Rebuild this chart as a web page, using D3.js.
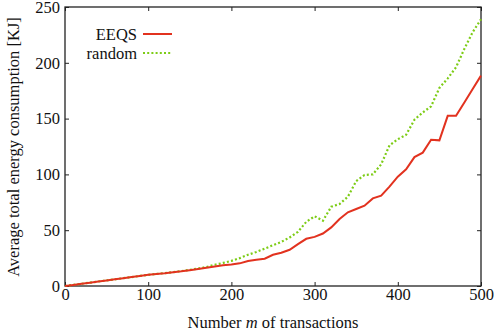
<!DOCTYPE html>
<html><head><meta charset="utf-8">
<script src="https://cdn.jsdelivr.net/npm/d3@7"></script>
<style>
html,body{margin:0;padding:0;background:#fff;}
text{font-family:"Liberation Serif","Times New Roman",serif;fill:#111;}
</style></head>
<body><svg id="chart" width="496" height="335"></svg>
<script>
const xValues = [0,10,20,30,40,50,60,70,80,90,100,110,120,130,140,150,160,170,180,190,200,210,220,230,240,250,260,270,280,290,300,310,320,330,340,350,360,370,380,390,400,410,420,430,440,450,460,470,480,490,500];
const eeqs = [0,1,2,3,4,5,6,7,8,9,10,10.7,11.4,12.4,13.2,14.2,15.2,16.3,17.5,18.5,19.3,20.3,22.4,23.6,24.5,28,29.8,32.5,37.5,42.3,44,47,52.5,60,66,69,72,78.5,81,89,98,104.5,115.5,119.5,131,130.5,152.5,152.5,164.5,176.5,188.5];
const random = [0,1,2,3,4,5,6,7,8,9,10,10.8,11.6,12.5,13.4,14.5,15.6,17,19,20.7,22.5,25,28,30.5,33.5,36.5,39.5,43.5,48.5,57.5,62.5,58.5,71,73.5,80,94,99.5,100,109,126,131.5,135.5,149,155.5,161,177.5,186,196,212.5,227.5,239];
const xTicks = [0,100,200,300,400,500];
const yTicks = [0,50,100,150,200,250];
const seriesNames = ["EEQS","random"];
const seriesColors = ["#e2321f","#7dcc16"];

const svg = d3.select("#chart");
const L = 65, R = 481, T = 7, B = 286;
const x = d3.scaleLinear().domain([0,500]).range([L,R]);
const y = d3.scaleLinear().domain([0,250]).range([B,T]);

const tickLen = 4;
const gBottom = svg.append("g").attr("transform",`translate(0,${B})`)
  .call(d3.axisBottom(x).tickValues(xTicks).tickSizeInner(-tickLen).tickSizeOuter(0).tickPadding(8));
const gTop = svg.append("g").attr("transform",`translate(0,${T})`)
  .call(d3.axisTop(x).tickValues(xTicks).tickSizeInner(-tickLen).tickSizeOuter(0).tickFormat(""));
const gLeft = svg.append("g").attr("transform",`translate(${L},0)`)
  .call(d3.axisLeft(y).tickValues(yTicks).tickSizeInner(-tickLen).tickSizeOuter(0).tickPadding(8));
const gRight = svg.append("g").attr("transform",`translate(${R},0)`)
  .call(d3.axisRight(y).tickValues(yTicks).tickSizeInner(-tickLen).tickSizeOuter(0).tickFormat(""));
[gBottom,gTop,gLeft,gRight].forEach(g=>{
  g.select(".domain").remove();
  g.selectAll("line").attr("stroke","#222").attr("stroke-width",1);
  g.selectAll("text").style("font-family","'Liberation Serif',serif").style("font-size","16.5px").attr("fill","#111");
});
gBottom.selectAll("text").attr("dy","0.71em").attr("y",2);
gLeft.selectAll("text").attr("x",-5);

svg.append("rect").attr("x",L).attr("y",T).attr("width",R-L).attr("height",B-T)
  .attr("fill","none").attr("stroke","#222").attr("stroke-width",1.3);

const line = d3.line().x((d,i)=>x(xValues[i])).y(d=>y(d));
svg.append("path").datum(random).attr("d",line).attr("fill","none")
  .attr("stroke",seriesColors[1]).attr("stroke-width",2.2).attr("stroke-dasharray","2,2.2");
svg.append("path").datum(eeqs).attr("d",line).attr("fill","none")
  .attr("stroke",seriesColors[0]).attr("stroke-width",2);

const leg = svg.append("g");
seriesNames.forEach((n,i)=>{
  const yy = 34 + i*19;
  leg.append("text").attr("x",137).attr("y",yy).attr("dy","0.35em").attr("text-anchor","end")
    .style("font-size","16.5px").text(n);
  leg.append("line").attr("x1",143).attr("x2",172).attr("y1",yy).attr("y2",yy)
    .attr("stroke",seriesColors[i]).attr("stroke-width",i===0?2:2.2)
    .attr("stroke-dasharray",i===0?null:"2,2.2");
});

const xt = svg.append("text").attr("x",273).attr("y",328).attr("text-anchor","middle").style("font-size","16.5px");
xt.append("tspan").text("Number ");
xt.append("tspan").style("font-style","italic").text("m");
xt.append("tspan").text(" of transactions");
svg.append("text").attr("transform","translate(19,147) rotate(-90)").attr("text-anchor","middle")
  .style("font-size","16.5px").text("Average total energy consumption [KJ]");
</script></body></html>
